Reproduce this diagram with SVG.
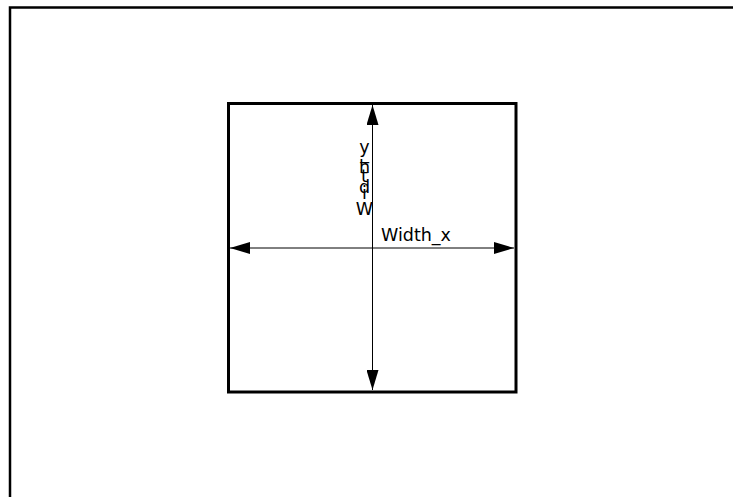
<svg xmlns="http://www.w3.org/2000/svg" width="733" height="497" viewBox="0 0 733 497">
<style>
.frame{fill:none;stroke:#000;stroke-width:2.5}
.box{fill:none;stroke:#000;stroke-width:3}
.dim{fill:none;stroke:#000;stroke-width:1}
.lbl{font-family:"DejaVu Sans",sans-serif;font-size:17.5px;fill:#000}
</style>
<defs>
<marker id="arr" markerUnits="userSpaceOnUse" markerWidth="20" markerHeight="12" refX="20" refY="6" orient="auto-start-reverse" viewBox="0 0 20 12">
<path d="M0,0 L20,6 L0,12 Z" fill="#000"/>
</marker>
</defs>
<rect width="733" height="497" fill="#fff"/>
<g id="page-frame">
<path class="frame" d="M10,497 V7.5 H733"/>
</g>
<g id="square">
<rect class="box" x="228.5" y="103.5" width="287.5" height="288.5"/>
</g>
<g id="connectors">
<line id="dim-x" class="dim" x1="230" y1="248" x2="514" y2="248" marker-start="url(#arr)" marker-end="url(#arr)"/>
<line id="dim-y" class="dim" x1="372.5" y1="105" x2="372.5" y2="390" marker-start="url(#arr)" marker-end="url(#arr)"/>
</g>
<g id="label-x">
<text class="lbl" x="381" y="241">Width_x</text>
</g>
<g id="label-y">
<text class="lbl" text-anchor="middle"><tspan x="364.5" y="153">y</tspan><tspan x="364.5" y="159">_</tspan><tspan x="364.5" y="173">h</tspan><tspan x="364.5" y="182">t</tspan><tspan x="364.5" y="193">d</tspan><tspan x="364.5" y="199">i</tspan><tspan x="364.5" y="215">W</tspan></text>
</g>
</svg>
